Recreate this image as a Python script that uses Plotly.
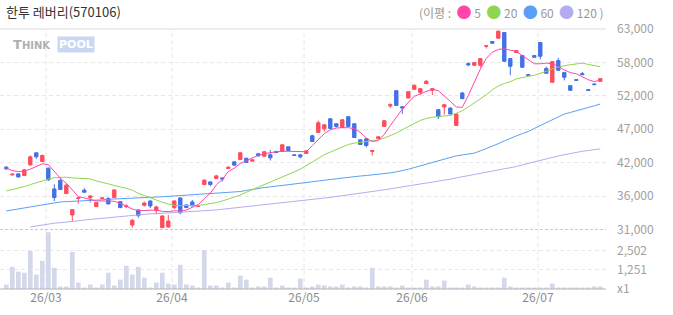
import pandas as pd
import plotly.graph_objects as go

# ---------------- data ----------------
holidays = ["2026-03-02", "2026-05-01", "2026-05-05", "2026-05-25", "2026-06-03"]
dates = [d for d in pd.bdate_range("2026-02-19", "2026-07-15") if d.strftime("%Y-%m-%d") not in holidays]

open_ = [40950, 39720, 39880, 39610, 41320, 43240, 41850, 40790, 37480, 38810,
         36730, 33320, 35940, 37270, 36090, 34650, 35940, 35940, 36090, 35450,
         34650, 31720, 34120, 34870, 35560, 34070, 31300, 31400, 34490, 36040,
         34920, 35400, 34700, 38170, 38600, 39130, 39240, 40730, 41800, 42170,
         42380, 41910, 43080, 42710, 42920, 43450, 43450, 44200, 42920, 42920,
         43130, 45960, 46490, 47080, 48680, 47880, 47290, 49000, 47880, 45320,
         45480, 43450, 45530, 47450, 50710, 53160, 50600, 51990, 53370, 52890,
         54280, 53210, 50120, 50550, 50390, 47610, 52790, 57480, 57210, 57210,
         60250, 61000, 61530, 62440, 58280, 59240, 58760, 55720, 58760, 60840,
         56680, 54490, 57960, 56040, 53960, 54920, 55880, 53320, 54230, 54650]
high = [41110, 39930, 39930, 40680, 42810, 43290, 42970, 40890, 38230, 39240,
        38340, 34280, 36150, 37590, 36470, 35400, 36090, 36150, 37370, 35500,
        35030, 32680, 34170, 35450, 35610, 34810, 33270, 33320, 35650, 36150,
        34970, 35720, 34800, 39030, 38650, 39720, 39290, 41110, 41850, 43400,
        42430, 42170, 43240, 43560, 43720, 43560, 44680, 44250, 42970, 42970,
        43610, 46120, 48360, 47770, 48730, 47930, 48570, 49050, 47930, 45370,
        45590, 43660, 45850, 48410, 51130, 53210, 50650, 53050, 54170, 53530,
        54860, 53590, 50170, 50970, 50440, 49530, 52950, 57690, 57690, 58330,
        60360, 61050, 62760, 62490, 58330, 59610, 58810, 55770, 58810, 60890,
        57000, 57850, 58390, 56090, 54010, 54970, 56150, 53370, 54280, 55130]
low = [40520, 39610, 39240, 39560, 41160, 42280, 41800, 38760, 35560, 37320,
       36680, 32360, 35130, 36900, 35300, 34600, 35900, 35030, 36040, 34440,
       34390, 31300, 32900, 34650, 34390, 33430, 31250, 31300, 34280, 33430,
       34440, 34710, 34650, 38120, 37910, 39080, 38650, 40680, 41220, 42120,
       41640, 41860, 42650, 42660, 42010, 43240, 43400, 43560, 42760, 42330,
       43080, 45000, 46440, 46650, 47080, 47290, 47240, 47400, 45640, 44520,
       44090, 42810, 45480, 47400, 50390, 50760, 49430, 51940, 53320, 52520,
       54230, 52470, 48630, 49320, 49380, 47560, 51830, 57050, 57160, 56890,
       59880, 60680, 61480, 57800, 55610, 59190, 56840, 55560, 58440, 58170,
       55880, 54440, 56360, 54810, 53160, 54760, 55670, 53160, 54070, 54600]
close = [40680, 39830, 39400, 40520, 42600, 42600, 42810, 38920, 36090, 37370,
         38070, 34170, 36040, 36950, 36360, 35300, 36040, 35080, 37320, 34490,
         34760, 32470, 33210, 35240, 34760, 34600, 33160, 32360, 35560, 33690,
         34490, 34760, 34730, 38870, 38170, 39560, 39080, 40950, 41270, 43240,
         41690, 42120, 42760, 43400, 42440, 43290, 44520, 43610, 42810, 42600,
         43560, 45050, 48040, 47720, 47130, 47450, 48520, 47450, 45690, 44570,
         44410, 43610, 45800, 48360, 50920, 50810, 50390, 53000, 54010, 53480,
         54650, 53480, 49000, 50920, 49430, 49430, 51880, 57270, 57640, 58280,
         60310, 60730, 62650, 57850, 57050, 59560, 56890, 55610, 58490, 58650,
         55930, 57800, 56410, 55290, 53210, 54810, 55720, 53210, 54120, 55080]
volume = [289, 1443, 1123, 1058, 2470, 930, 1828, 3689, 1379, 160,
          160, 2406, 417, 96, 289, 96, 289, 1058, 225, 610,
          1507, 930, 1443, 738, 96, 417, 1058, 353, 289, 1572,
          289, 225, 96, 2534, 225, 225, 96, 417, 96, 866,
          609, 96, 160, 160, 737, 96, 225, 96, 96, 673,
          96, 160, 289, 225, 160, 160, 289, 96, 160, 160,
          96, 1379, 160, 160, 160, 96, 225, 96, 96, 96,
          609, 160, 160, 545, 96, 96, 96, 289, 160, 96,
          96, 96, 96, 737, 160, 96, 96, 96, 96, 80,
          80, 353, 80, 80, 80, 80, 80, 80, 160, 160]
ma5 = [40790, 40410, 40250, 40310, 40630, 41110, 41480, 41370, 40250, 39190,
       38390, 37320, 36250, 36040, 35830, 35560, 35560, 35560, 35510, 35190,
       34760, 34280, 34010, 34010, 34010, 34100, 33900, 33850, 33990, 33940,
       34100, 34500, 35000, 35900, 36800, 38100, 39000, 40250, 40790, 41550,
       41950, 42350, 42850, 43100, 43300, 43420, 43500, 43480, 43420, 43400,
       43420, 44400, 45400, 46300, 46900, 47200, 47250, 47250, 47100, 46500,
       45600, 45050, 45200, 46200, 47600, 49000, 50200, 51300, 52250, 52650,
       53000, 53400, 53160, 52360, 51450, 50550, 50500, 52400, 54500, 56600,
       58300, 59300, 59750, 59850, 59620, 59450, 58760, 58050, 57450, 57450,
       57550, 57450, 57050, 56450, 56050, 55850, 55400, 54900, 54600, 54850]
ma20 = [37160, 37370, 37590, 37850, 38170, 38490, 38810, 39030, 39290, 39350,
        39350, 39240, 39190, 39190, 39080, 38760, 38490, 38230, 38010, 37800,
        37590, 37270, 36790, 36410, 35990, 35620, 35350, 35080, 34870, 34810,
        34810, 34810, 34850, 34980, 35100, 35300, 35550, 35850, 36150, 36500,
        36950, 37350, 37750, 38100, 38500, 38900, 39300, 39750, 40200, 40650,
        41150, 41750, 42350, 42950, 43350, 43750, 44150, 44570, 44790, 44890,
        45000, 45080, 45290, 45590, 45950, 46400, 46920, 47450, 47990, 48410,
        48730, 48950, 49050, 49110, 49200, 49550, 49960, 50550, 51190, 51800,
        52500, 53300, 53900, 54300, 54600, 55030, 55290, 55450, 55610, 55880,
        56250, 56650, 56950, 57150, 57300, 57450, 57550, 57350, 57150, 56980]
ma60 = [33960, 34150, 34330, 34470, 34600, 34760, 34920, 35140, 35350, 35400,
        35450, 35480, 35510, 35540, 35560, 35650, 35740, 35830, 35860, 35900,
        35930, 35980, 36040, 36100, 36150, 36180, 36230, 36290, 36350, 36410,
        36460, 36520, 36570, 36630, 36700, 36790, 36900, 36950, 37010, 37060,
        37240, 37410, 37590, 37700, 37800, 37910, 38000, 38080, 38170, 38330,
        38490, 38620, 38750, 38880, 39000, 39130, 39240, 39340, 39450, 39540,
        39620, 39710, 39800, 39880, 40040, 40200, 40360, 40620, 40890, 41160,
        41430, 41690, 41960, 42280, 42600, 42760, 42900, 43050, 43190, 43540,
        43900, 44250, 44700, 45140, 45590, 45940, 46300, 46650, 47130, 47610,
        48090, 48530, 48980, 49430, 49680, 49920, 50170, 50460, 50740, 51030]
ma120 = [None, None, None, None, 31400, 31580, 31750, 31930, 32010, 32080,
         32150, 32270, 32400, 32520, 32620, 32710, 32810, 32900, 33000, 33100,
         33190, 33290, 33380, 33480, 33510, 33530, 33580, 33640, 33690, 33750,
         33800, 33860, 33930, 33990, 34060, 34120, 34230, 34330, 34440, 34540,
         34650, 34750, 34840, 34940, 35030, 35130, 35230, 35320, 35420, 35510,
         35670, 35790, 35900, 36020, 36130, 36250, 36380, 36510, 36640, 36770,
         36900, 37050, 37200, 37340, 37490, 37640, 37780, 37920, 38060, 38190,
         38330, 38500, 38680, 38850, 39030, 39240, 39410, 39580, 39750, 39920,
         40090, 40280, 40470, 40670, 40860, 41050, 41310, 41560, 41820, 42070,
         42330, 42530, 42740, 42940, 43150, 43350, 43480, 43610, 43750, 43880]

price_ticks = [31000, 36000, 42000, 47000, 52000, 58000, 63000]
vol_ticks = [0, 1251, 2502]
vol_labels = ["x1", "1,251", "2,502"]

# ---------------- figure ----------------
x = list(range(len(dates)))
W, H = 673, 315
ML, MR, MT, MB = 0, 67, 29, 26
split = 0.2288
p_min, p_max = 31000, 63000
v_max = 2502 / 38.5 * 59.5

UP, DOWN = "#ff4d5e", "#4272e6"
fig = go.Figure()

fig.add_trace(go.Bar(x=x, y=volume, marker_color="#d3d8ea", marker_line_width=0,
                     width=0.78, yaxis="y2", hoverinfo="skip", showlegend=False))

for vals, col in [(ma120, "#b4acf0"), (ma60, "#5a9ff5"), (ma20, "#8ed64f"), (ma5, "#ff45a8")]:
    fig.add_trace(go.Scatter(x=x, y=vals, mode="lines", line=dict(color=col, width=1),
                             hoverinfo="skip", showlegend=False, connectgaps=False))

fig.add_trace(go.Candlestick(
    x=x, open=open_, high=high, low=low, close=close,
    increasing=dict(line=dict(color=UP, width=1), fillcolor=UP),
    decreasing=dict(line=dict(color=DOWN, width=1), fillcolor=DOWN),
    whiskerwidth=0, showlegend=False, hoverinfo="skip"))

# month ticks at first trading day of each month (drawn at left edge of candle)
month_idx = [i for i in range(1, len(dates)) if dates[i].month != dates[i - 1].month]
tick_pos = [i - 0.38 for i in month_idx]
tick_txt = [dates[i].strftime("%y/%m") for i in month_idx]

shapes = []
for tp in tick_pos:
    shapes.append(dict(type="line", xref="x", yref="paper", x0=tp, x1=tp, y0=0, y1=1,
                       line=dict(color="#e6e6e6", width=1, dash="4px,3px"), layer="below"))
shapes.append(dict(type="line", xref="paper", yref="paper", x0=0, x1=1, y0=1, y1=1,
                   line=dict(color="#dcdcdc", width=1), layer="below"))
shapes.append(dict(type="line", xref="paper", yref="y", x0=0, x1=1, y0=p_min, y1=p_min,
                   line=dict(color="#9a9a9a", width=1, dash="3px,2px"), layer="above"))
shapes.append(dict(type="line", xref="paper", yref="paper", x0=0, x1=1, y0=0, y1=0,
                   line=dict(color="#b4b4b4", width=1), layer="above"))

tick_font = dict(family="Noto Sans CJK KR, Noto Sans", size=12, color="#a0a0a0")
price_tickvals = [p_min + k * (p_max - p_min) / 6 for k in range(7)]

fig.update_layout(
    width=W, height=H, margin=dict(l=ML, r=MR, t=MT, b=MB),
    paper_bgcolor="white", plot_bgcolor="white",
    showlegend=False, boxgap=0.2,
    xaxis=dict(range=[-1.05, 99.95], tickvals=tick_pos, ticktext=tick_txt, anchor="y2",
               showgrid=False, zeroline=False, showline=False, ticks="",
               rangeslider=dict(visible=False), fixedrange=True,
               tickfont=dict(family="Noto Sans CJK KR, Noto Sans", size=12, color="#8c8c8c")),
    yaxis=dict(domain=[split, 1], range=[p_min, p_max], side="right", anchor="x",
               tickvals=price_tickvals, ticktext=[f"{v:,}" for v in price_ticks],
               showgrid=True, gridcolor="#e8e8e8", griddash="4px,3px", gridwidth=1,
               zeroline=False, showline=False, ticks="", ticklabelstandoff=10,
               tickfont=tick_font),
    yaxis2=dict(domain=[0, split], range=[0, v_max], side="right", anchor="x",
                tickvals=vol_ticks, ticktext=vol_labels,
                showgrid=True, gridcolor="#e8e8e8", griddash="4px,3px", gridwidth=1,
                zeroline=False, showline=False, ticks="", ticklabelstandoff=10,
                tickfont=tick_font),
    shapes=shapes,
)

PH = H - MT - MB
PW = W - ML - MR
dot = "<span style='color:%s;font-size:15px'>●</span>"
annotations = [
    dict(xref="paper", yref="paper", x=4 / PW, y=1 + (MT - 11) / PH,
         xanchor="left", yanchor="middle", showarrow=False,
         text="한투 레버리(570106)",
         font=dict(family="Noto Sans CJK KR", size=13, color="#333333")),
    dict(xref="paper", yref="paper", x=1, y=1 + (MT - 11) / PH,
         xanchor="right", yanchor="middle", showarrow=False,
         text=("(이평 :  " + dot % "#ff45a8" + " 5  " + dot % "#8ed64f" + " 20  "
               + dot % "#5a9ff5" + " 60  " + dot % "#b4acf0" + " 120 )"),
         font=dict(family="Noto Sans CJK KR", size=12, color="#999999")),
    dict(xref="paper", yref="paper", x=11 / PW, y=1 - 15 / PH,
         xanchor="left", yanchor="middle", showarrow=False,
         text="T<span style='font-size:10px'>HINK</span>",
         font=dict(family="DejaVu Sans", size=13, color="#b0b0b0", weight="bold")),
    dict(xref="paper", yref="paper", x=57 / PW, y=1 - 15 / PH,
         xanchor="left", yanchor="middle", showarrow=False, bgcolor="#c9d8f2", borderpad=1,
         text="POOL",
         font=dict(family="DejaVu Sans", size=11, color="#ffffff", weight="bold")),
]
fig.update_layout(annotations=annotations)

fig.write_html("out.html")
